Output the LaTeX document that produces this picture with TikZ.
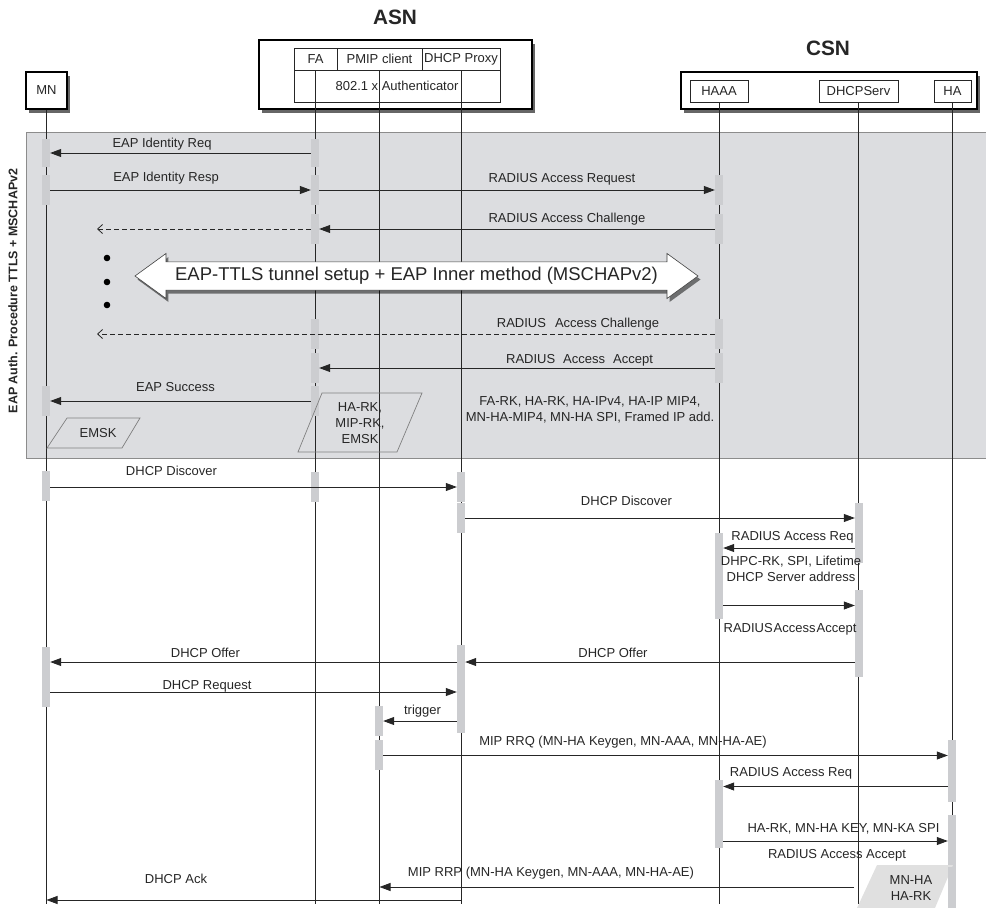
\documentclass[tikz,border=0pt]{standalone}
\usepackage{fontspec}
\setmainfont{Liberation Sans}
\usetikzlibrary{shapes,arrows.meta,positioning,calc,shadows}

\definecolor{zonecol}{RGB}{220,221,224}
\definecolor{barcol}{RGB}{204,205,208}
\definecolor{inkcol}{RGB}{38,38,38}

\begin{document}
\begin{tikzpicture}[x=1pt, y=-1pt, font=\fontsize{13}{16}\selectfont, text=inkcol,
    box/.style={draw=black, line width=1.3pt, fill=white, inner sep=0pt,
        drop shadow={shadow xshift=2.5pt, shadow yshift=-3.5pt, fill=black, opacity=0.6}},
    cell/.style={draw=inkcol, line width=0.7pt, fill=white, inner sep=0pt},
    bar/.style={fill=barcol, draw=none, minimum width=8pt, inner sep=0pt},
    life/.style={draw=inkcol, line width=0.8pt},
    msg/.style={draw=inkcol, line width=0.8pt, -{Triangle[length=11pt,width=8pt]}},
    dmsg/.style={draw=inkcol, line width=0.8pt, dash pattern=on 5pt off 3pt, -{Straight Barb[length=5pt,width=9pt]}},
    lbl/.style={inner sep=0pt, text height=9.3pt, text depth=0pt},
    mlbl/.style={inner sep=0pt, align=center},
    keybox/.style={draw=black!50, line width=0.7pt}]
    \useasboundingbox (0,0) rectangle (986,908);

    % Headers
    \node[font=\fontsize{20.8}{22}\selectfont\bfseries] (asnlbl) at (395,17) {ASN};
    \node[font=\fontsize{20.8}{22}\selectfont\bfseries] (csnlbl) at (828,48) {CSN};
    \node[box, minimum width=41pt, minimum height=37pt] (mn) at (46.5,90.5) {MN};
    \node[box, minimum width=273pt, minimum height=69pt] (asn) at (395.5,74.5) {};
    \node[cell, minimum width=43pt, minimum height=22pt] (fa) at (315.5,59) {FA};
    \node[cell, minimum width=85pt, minimum height=22pt] (pmip) at (379.5,59) {PMIP client};
    \node[cell, minimum width=78pt, minimum height=22pt] (prox) at (461,59) {DHCP Proxy};
    \node[cell, minimum width=206pt, minimum height=32pt] (auth) at (397,86) {802.1 x Authenticator};
    \node[box, minimum width=296pt, minimum height=37pt] (csn) at (829,90.5) {};
    \node[cell, minimum width=58pt, minimum height=22pt] (haaa) at (719,91) {HAAA};
    \node[cell, minimum width=79pt, minimum height=22pt] (dhcps) at (858.5,91) {DHCPServ};
    \node[cell, minimum width=37pt, minimum height=22pt] (ha) at (952.5,91) {HA};

    % EAP zone
    \draw[fill=zonecol, draw=black!45, line width=0.8pt] (26,132) rectangle (987,458);
    \node[rotate=90, font=\fontsize{12.5}{14}\selectfont\bfseries] (eaplbl) at (13,291) {EAP Auth. Procedure TTLS + MSCHAPv2};

    % Lifelines
    \foreach \n in {mn,fa,pmip,prox,haaa,dhcps,ha} {
        \draw[life] (\n.south) -- (\n.south |- 0,904);
    }

    % Activation bars
    \foreach \n/\x/\a/\b in {mnA/46/139/167, faA/315/139/167, mnB/46/175/205, faB/315/175/205,
        haaaA/719/175/205, faC/315/214/244, haaaB/719/214/244, faD/315/319/349, haaaC/719/319/349,
        faE/315/353/383, haaaD/719/353/383, mnC/46/386/416, faF/315/386/416,
        mnD/46/471/501, faG/315/472/502, prA/461/472/502, prB/461/503/533, dsA/859/503/533,
        dsB/859/533/563, haaaE/719/533/619, dsC/859/590/621, dsD/859/621/677,
        mnE/46/647/677, prC/461/645/733, mnF/46/677/707, pmA/379/706/736, pmB/379/740/770,
        haA/952/740/771, haB/952/771/802, haaaF/719/780/848, haC/952/815/867} {
        \node[bar, minimum height={(\b-\a)*1pt}] (\n) at (\x,{(\a+\b)/2}) {};
    }

    % Key material
    \draw[keybox] (47,448) -- (67,418) -- (140,418) -- (122,448) -- cycle;
    \node (emsk) at (98,433) {EMSK};
    \draw[keybox] (298,452) -- (322,393) -- (422,393) -- (397,452) -- cycle;
    \node[mlbl] (fakeys) at (360,423.5) {HA-RK,\\MIP-RK,\\EMSK};
    \fill[black!12] (857,908) -- (877,865) -- (953,865) -- (935,908) -- cycle;
    \node[bar, minimum height=41pt] (haD) at (952,887.5) {};
    \node[mlbl] (hakeys) at (911,888) {MN-HA\\HA-RK};

    % Messages
    \coordinate (chA) at (97,229);
    \coordinate (chB) at (97,334);
    \coordinate (rrpS) at (854,887);
    \draw[msg] (faA.west) -- (mnA.east);
    \draw[msg] (mnB.east) -- (faB.west);
    \draw[msg] (faB.east) -- (haaaA.west);
    \draw[msg] (haaaB.west) -- (faC.east);
    \draw[dmsg] (faC.west) -- (chA);
    \draw[dmsg] (haaaC.west) -- (chB);
    \draw[msg] (haaaD.west) -- (faE.east);
    \draw[msg] (faF.west) -- (mnC.east);
    \draw[msg] (prA.west -| mnD.east) -- (prA.west);
    \draw[msg] (prB.east) -- (dsA.west);
    \draw[msg] (dsB.west) -- (dsB.west -| haaaE.east);
    \draw[msg] (dsC.west -| haaaE.east) -- (dsC.west);
    \draw[msg] (mnE.east -| dsD.west) -- (mnE.east -| prC.east);
    \draw[msg] (mnE.east -| prC.west) -- (mnE.east);
    \draw[msg] (mnF.east) -- (mnF.east -| prC.west);
    \draw[msg] (pmA.east -| prC.west) -- (pmA.east);
    \draw[msg] (haA.west -| pmB.east) -- (haA.west);
    \draw[msg] (haB.west) -- (haB.west -| haaaF.east);
    \draw[msg] (haC.west -| haaaF.east) -- (haC.west);
    \draw[msg] (rrpS) -- (pmip.south |- rrpS);
    \draw[msg] (prox.south |- 0,900) -- (mn.south |- 0,900);

    % Message labels
    \node[lbl] (lIdReq) at (162,143) {EAP Identity Req};
    \node[lbl] (lIdResp) at (166,177) {EAP Identity Resp};
    \node[lbl] (lRadReq) at (562,178) {RADIUS Access Request};
    \node[lbl] (lRadCh) at (567,218) {RADIUS Access Challenge};
    \node[lbl] (lRadChB) at (578,323) {RADIUS\hspace{9pt}Access Challenge};
    \node[lbl] (lRadAcc) at (579.5,359) {RADIUS\hspace{8pt}Access\hspace{8pt}Accept};
    \node[lbl] (lSucc) at (175.5,386.5) {EAP Success};
    \node[mlbl] (lKeys) at (590,410) {FA-RK, HA-RK, HA-IPv4, HA-IP MIP4,\\MN-HA-MIP4, MN-HA SPI, Framed IP add.};
    \node[lbl] (lDiscA) at (171.5,470.5) {DHCP Discover};
    \node[lbl] (lDiscB) at (626.5,500.5) {DHCP Discover};
    \node[lbl] (lRadReqB) at (792.5,535.5) {RADIUS Access Req};
    \node[mlbl] (lDhpc) at (791,568.5) {DHPC-RK, SPI, Lifetime\\DHCP Server address};
    \node[lbl] (lRadAccB) at (790,627.5) {RADIUS\hspace{1pt}Access\hspace{1pt}Accept};
    \node[lbl] (lOfferB) at (613,652.5) {DHCP Offer};
    \node[lbl] (lOfferA) at (205.5,652.5) {DHCP Offer};
    \node[lbl] (lReq) at (207,684.5) {DHCP Request};
    \node[lbl] (lTrig) at (422.5,710) {trigger};
    \node[lbl] (lRrq) at (623,741) {MIP RRQ (MN-HA Keygen, MN-AAA, MN-HA-AE)};
    \node[lbl] (lRadReqC) at (791,772) {RADIUS Access Req};
    \node[lbl] (lHaKeys) at (843.5,828) {HA-RK, MN-HA KEY, MN-KA SPI};
    \node[lbl] (lRadAccC) at (837,854) {RADIUS Access Accept};
    \node[lbl] (lRrp) at (551,871.5) {MIP RRP (MN-HA Keygen, MN-AAA, MN-HA-AE)};
    \node[lbl] (lAck) at (176,879) {DHCP Ack};

    % Tunnel
    \foreach \y/\n in {258/dotA, 282/dotB, 305/dotC} {
        \fill[black] (107,\y) circle (3.3pt) coordinate (\n);
    }
    \node[double arrow, draw=black!75, fill=white, line width=0.6pt,
        minimum height=563pt, minimum width=45pt, double arrow head extend=6.5pt,
        double arrow tip angle=72, inner sep=2pt,
        font=\fontsize{18.5}{20}\selectfont,
        drop shadow={shadow xshift=2.5pt, shadow yshift=-3.5pt, fill=black, opacity=0.5}]
        (tunnel) at (416.5,276) {EAP-TTLS tunnel setup + EAP Inner method (MSCHAPv2)};
\end{tikzpicture}
\end{document}
